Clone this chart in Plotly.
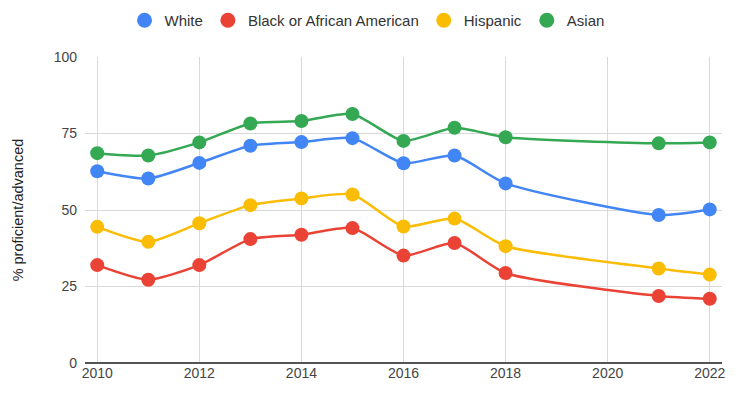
import plotly.graph_objects as go

# Survey years
years = [2010, 2011, 2012, 2013, 2014, 2015, 2016, 2017, 2018, 2021, 2022]

# % proficient/advanced by group
white = [62.7, 60.3, 65.4, 71.0, 72.2, 73.5, 65.3, 67.8, 58.7, 48.4, 50.2]
black = [32.0, 27.2, 32.0, 40.5, 41.9, 44.1, 35.1, 39.2, 29.4, 21.9, 21.0]
hispanic = [44.5, 39.6, 45.7, 51.6, 53.8, 55.1, 44.6, 47.2, 38.2, 30.9, 28.9]
asian = [68.6, 67.8, 72.1, 78.3, 79.1, 81.4, 72.6, 76.9, 73.8, 71.8, 72.1]

series_names = ["White", "Black or African American", "Hispanic", "Asian"]
series_values = [white, black, hispanic, asian]
colors = ["#4285F4", "#EA4335", "#FBBC04", "#34A853"]

x_ticks = [2010, 2012, 2014, 2016, 2018, 2020, 2022]
y_ticks = [0, 25, 50, 75, 100]

FONT = "Liberation Sans, Arial, sans-serif"

fig = go.Figure()

# Data lines (smoothed, with dots)
for name, vals, col in zip(series_names, series_values, colors):
    fig.add_trace(go.Scatter(
        x=years, y=vals, name=name, mode="lines+markers",
        line=dict(color=col, width=2.5, shape="spline", smoothing=0.6),
        marker=dict(color=col, size=14),
        showlegend=False, hoverinfo="x+y+name",
    ))

# Legend entries shown as plain dots
for name, col in zip(series_names, colors):
    fig.add_trace(go.Scatter(
        x=[None], y=[None], name=name, mode="markers",
        marker=dict(color=col, size=15), showlegend=True,
    ))

fig.update_layout(
    width=743, height=396,
    margin=dict(l=85, r=21, t=54, b=33),
    paper_bgcolor="white", plot_bgcolor="white",
    font=dict(family=FONT, size=14, color="#444444"),
    legend=dict(
        orientation="h", x=0.494, xanchor="center", xref="container",
        y=0.99, yanchor="top", yref="container",
        font=dict(family=FONT, size=15, color="#333333"),
        itemwidth=30, tracegroupgap=0,
    ),
    showlegend=True,
)

fig.update_xaxes(
    range=[2009.76, 2022.24], tickvals=x_ticks, ticktext=[str(t) for t in x_ticks],
    showgrid=True, gridcolor="#d9d9d9", gridwidth=1,
    zeroline=False, showline=False, ticks="",
    tickfont=dict(family=FONT, size=14, color="#444444"),
)
fig.update_yaxes(
    range=[0, 100], tickvals=y_ticks, ticktext=[str(t) for t in y_ticks],
    showgrid=True, gridcolor="#d9d9d9", gridwidth=1,
    zeroline=True, zerolinecolor="#555555", zerolinewidth=1.5,
    showline=False, ticks="", ticklabelstandoff=7,
    title=dict(text="% proficient/advanced", font=dict(family=FONT, size=14.5, color="#222222"), standoff=26),
    tickfont=dict(family=FONT, size=14, color="#444444"),
)

fig.write_html("out.html")
